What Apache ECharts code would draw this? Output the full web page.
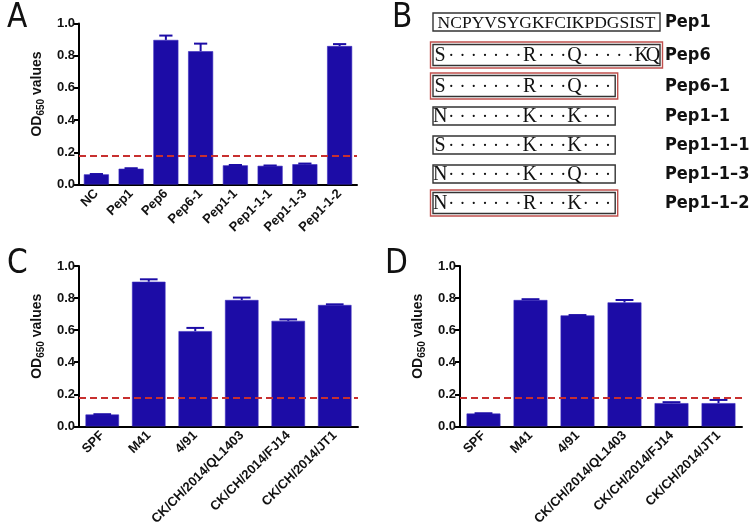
<!DOCTYPE html>
<html><head><meta charset="utf-8">
<script src="https://cdn.jsdelivr.net/npm/echarts@6/dist/echarts.min.js"></script>
<style>html,body{margin:0;padding:0;background:#fff}#c{width:752px;height:528px}</style>
</head><body><div id="c"></div>
<script>
// ---- Data ----
const catsA = ['NC','Pep1','Pep6','Pep6-1','Pep1-1','Pep1-1-1','Pep1-1-3','Pep1-1-2'];
const valA  = [0.063, 0.098, 0.898, 0.828, 0.119, 0.116, 0.126, 0.860];
const errA  = [0.002, 0.003, 0.027, 0.047, 0.002, 0.002, 0.004, 0.012];
const catsC = ['SPF','M41','4/91','CK/CH/2014/QL1403','CK/CH/2014/FJ14','CK/CH/2014/JT1'];
const valC  = [0.074, 0.902, 0.594, 0.788, 0.658, 0.757];
const errC  = [0.002, 0.015, 0.020, 0.015, 0.009, 0.004];
const catsD = ['SPF','M41','4/91','CK/CH/2014/QL1403','CK/CH/2014/FJ14','CK/CH/2014/JT1'];
const valD  = [0.080, 0.788, 0.692, 0.773, 0.145, 0.145];
const errD  = [0.002, 0.005, 0.002, 0.015, 0.006, 0.020];
const cutoff = 0.185;
const yTicks = ['0.0','0.2','0.4','0.6','0.8','1.0'];
const panelLetters = ['A','B','C','D'];
const pepNames = ['Pep1','Pep6','Pep6\u20131','Pep1\u20131','Pep1\u20131\u20131','Pep1\u20131\u20133','Pep1\u20131\u20132'];
const pepSeqs = ['NCPYVSYGKFCIKPDGSIST',
  'S\u00b7\u00b7\u00b7\u00b7\u00b7\u00b7\u00b7R\u00b7\u00b7\u00b7Q\u00b7\u00b7\u00b7\u00b7\u00b7KQ',
  'S\u00b7\u00b7\u00b7\u00b7\u00b7\u00b7\u00b7R\u00b7\u00b7\u00b7Q\u00b7\u00b7\u00b7',
  'N\u00b7\u00b7\u00b7\u00b7\u00b7\u00b7\u00b7K\u00b7\u00b7\u00b7K\u00b7\u00b7\u00b7',
  'S\u00b7\u00b7\u00b7\u00b7\u00b7\u00b7\u00b7K\u00b7\u00b7\u00b7K\u00b7\u00b7\u00b7',
  'N\u00b7\u00b7\u00b7\u00b7\u00b7\u00b7\u00b7K\u00b7\u00b7\u00b7Q\u00b7\u00b7\u00b7',
  'N\u00b7\u00b7\u00b7\u00b7\u00b7\u00b7\u00b7R\u00b7\u00b7\u00b7K\u00b7\u00b7\u00b7'];
const pepHighlight = [false, true, true, false, false, false, true];

// ---- Styles ----
const SANS = "'Liberation Sans', Arial, sans-serif";
const NARROW = "'Liberation Sans Narrow', 'DejaVu Sans Condensed', 'Liberation Sans', sans-serif";
const SERIF = "'Liberation Serif', 'Times New Roman', serif";
const BAR = '#1c0ca6';
const DASH = '#c8302f';

const grids = [
  {left: 79, top: 23.5, width: 278, height: 161},
  {left: 79, top: 266, width: 279, height: 162},
  {left: 460, top: 266, width: 282, height: 162}
];
const panels = [[catsA, valA, errA],[catsC, valC, errC],[catsD, valD, errD]];

const xAxes = [], yAxes = [], series = [];
panels.forEach((p, g) => {
  const [cats, vals, errs] = p;
  xAxes.push({
    type: 'category', gridIndex: g, data: cats,
    axisLine: {lineStyle: {color: '#000', width: 2}},
    axisTick: {alignWithLabel: true, length: 5, lineStyle: {color: '#000', width: 2}},
    axisLabel: {rotate: 45, margin: 7, color: '#111', fontFamily: SANS, fontWeight: 'bold', fontSize: 13, interval: 0}
  });
  yAxes.push({
    type: 'value', gridIndex: g, min: 0, max: 1, interval: 0.2,
    splitLine: {show: false},
    axisLine: {show: true, lineStyle: {color: '#000', width: 2}},
    axisTick: {show: true, length: 5, lineStyle: {color: '#000', width: 2}},
    axisLabel: {margin: 4, color: '#111', fontFamily: SANS, fontWeight: 'bold', fontSize: 13,
      formatter: v => yTicks[Math.round(v / 0.2)]},
    name: '{a|OD}{s|650}{a| values}', nameLocation: 'middle', nameGap: 33, nameRotate: 90,
    nameTextStyle: {padding: [0, 0, 0, 20], rich: {
      a: {fontFamily: SANS, fontWeight: 'bold', fontSize: 14, color: '#111', lineHeight: 18},
      s: {fontFamily: SANS, fontWeight: 'bold', fontSize: 10, color: '#111', lineHeight: 10, verticalAlign: 'bottom'}
    }}
  });
  series.push({
    type: 'line', xAxisIndex: g, yAxisIndex: g, data: [], z: 1, silent: true,
    markLine: {silent: true, symbol: 'none', label: {show: false},
      lineStyle: {color: DASH, type: [7, 4], width: 2}, data: [{yAxis: cutoff}]}
  });
  series.push({
    type: 'bar', xAxisIndex: g, yAxisIndex: g, data: vals, barWidth: '72%', z: 3,
    itemStyle: {color: BAR, borderColor: '#3a2cc0', borderWidth: 0.6}
  });
  series.push({
    type: 'custom', xAxisIndex: g, yAxisIndex: g, z: 4,
    data: vals.map((v, i) => [i, v, errs[i]]),
    encode: {x: 0, y: 1},
    renderItem: (params, api) => {
      const i = api.value(0), v = api.value(1), e = api.value(2);
      const base = api.coord([i, v]);
      const top = api.coord([i, v + e]);
      const half = api.size([1, 0])[0] * 0.19;
      const st = {stroke: BAR, lineWidth: 2};
      return {type: 'group', children: [
        {type: 'line', shape: {x1: base[0], y1: base[1], x2: top[0], y2: top[1]}, style: st},
        {type: 'line', shape: {x1: top[0] - half, y1: top[1], x2: top[0] + half, y2: top[1]}, style: st}
      ]};
    }
  });
});

// ---- Panel B (sequence diagram) and panel letters ----
const graphics = [];
const letterPos = [[7, 2], [392, 2], [7, 248], [385, 248]];
panelLetters.forEach((L, i) => {
  graphics.push({type: 'text', x: letterPos[i][0], y: letterPos[i][1],
    style: {text: L, fontFamily: NARROW, fontSize: 33, fill: '#111'}});
});
const rowY = [22, 55, 86, 116, 145, 174, 203];
const boxLeft = 433, cellW = 11.2;
pepSeqs.forEach((seq, r) => {
  const n = seq.length;
  const w = n * cellW + 3;
  const hl = pepHighlight[r];
  const h = hl ? 21 : 18;
  const cy = rowY[r];
  graphics.push({type: 'rect', shape: {x: boxLeft, y: cy - h / 2, width: w, height: h},
    style: {fill: 'none', stroke: '#333', lineWidth: 1.4}});
  if (hl) {
    graphics.push({type: 'rect', shape: {x: boxLeft - 2.5, y: cy - h / 2 - 2.5, width: w + 5, height: h + 5},
      style: {fill: 'none', stroke: '#c0504d', lineWidth: 1.4}});
  }
  if (r === 0) {
    graphics.push({type: 'text', x: boxLeft + w / 2, y: cy + 1,
      style: {text: seq, fontFamily: SERIF, fontSize: 17.5, fill: '#111',
        textAlign: 'center', align: 'center', textVerticalAlign: 'middle', verticalAlign: 'middle'}});
  } else {
    for (let k = 0; k < n; k++) {
      const isDot = seq[k] === '\u00b7';
      graphics.push({type: 'text', x: boxLeft + 1.5 + cellW * (k + 0.5), y: cy + 1,
        style: {text: seq[k], fontFamily: SERIF, fontSize: isDot ? 18 : 20, fill: '#111',
          textAlign: 'center', align: 'center', textVerticalAlign: 'middle', verticalAlign: 'middle'}});
    }
  }
  graphics.push({type: 'text', x: 665, y: cy,
    style: {text: pepNames[r], fontFamily: NARROW, fontWeight: 'bold', fontSize: 18, fill: '#111',
      textAlign: 'left', align: 'left', textVerticalAlign: 'middle', verticalAlign: 'middle'}});
});

const chart = echarts.init(document.getElementById('c'), null, {renderer: 'canvas'});
chart.setOption({
  animation: false,
  backgroundColor: '#fff',
  grid: grids,
  xAxis: xAxes,
  yAxis: yAxes,
  series: series,
  graphic: graphics
});
</script></body></html>
